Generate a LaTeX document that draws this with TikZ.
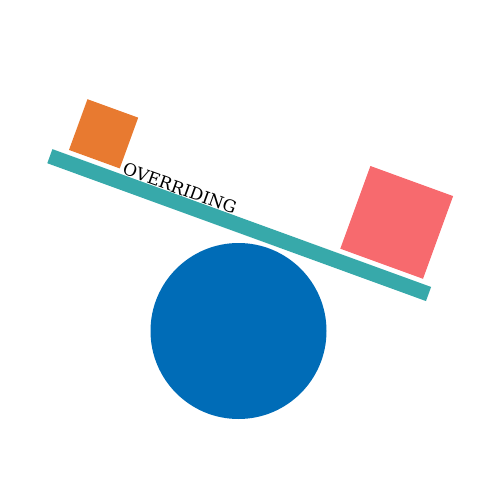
\documentclass[tikz,border=0pt]{standalone}
\usepackage{fontspec}
\newfontfamily\lblfont{DejaVu Serif}
\definecolor{beamc}{RGB}{55,169,170}
\definecolor{ballc}{RGB}{0,108,183}
\definecolor{smallc}{RGB}{232,122,48}
\definecolor{bigc}{RGB}{247,106,110}
\begin{document}
\begin{tikzpicture}[x=1pt,y=-1pt,
  shapebox/.style={rectangle,draw=none,inner sep=0pt,rotate=-20},
  lbl/.style={inner sep=0pt,rotate=-20,font=\lblfont\fontsize{17}{20}\selectfont}]
\useasboundingbox (0,0) rectangle (500,500);
\node[circle,fill=ballc,minimum size=176pt,inner sep=0pt] (ball) at (238.5,331) {};
\node[shapebox,fill=beamc,minimum width=403pt,minimum height=15pt] (beam) at (239.2,225.1) {};
\node[shapebox,fill=smallc,minimum size=54pt] (small) at (103.6,133.8) {};
\node[shapebox,fill=bigc,minimum size=88pt] (big) at (396.7,222.4) {};
\node[lbl,anchor=base west] (txt) at (121.5,173.5) {OVERRIDING};
\end{tikzpicture}
\end{document}
